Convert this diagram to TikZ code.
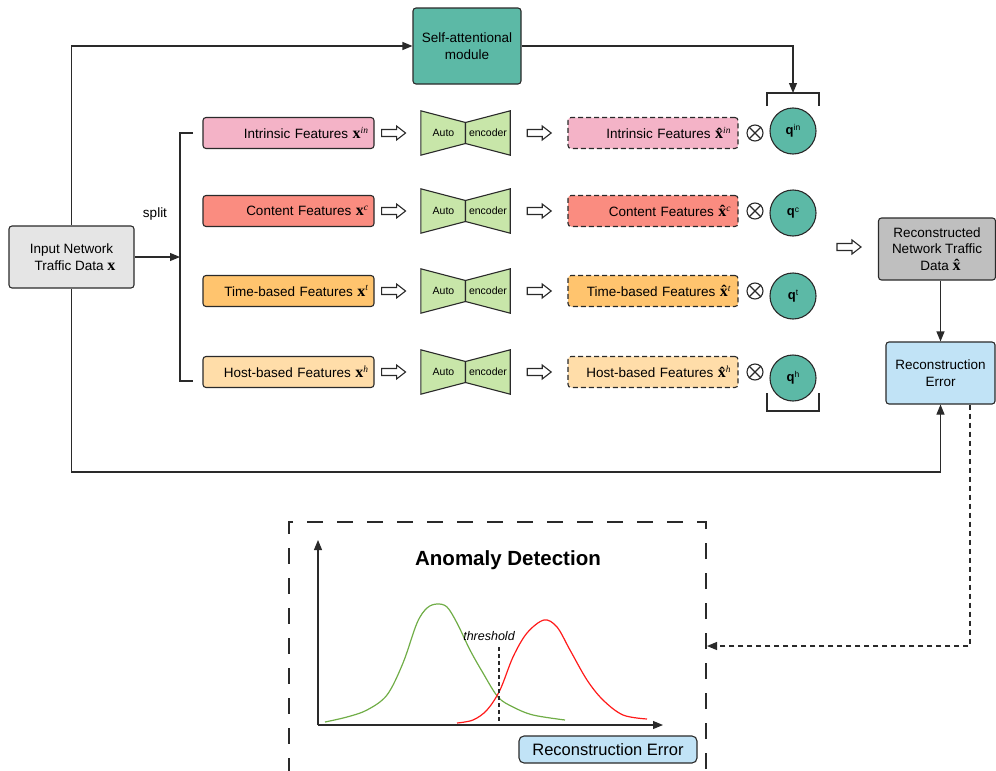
\documentclass[tikz,border=0pt]{standalone}
\usepackage[no-math]{fontspec}
\setmainfont{Liberation Sans}
\newfontfamily\serifx{Liberation Serif}
\usetikzlibrary{arrows.meta,calc}
\definecolor{lnc}{HTML}{2A2A2A}
\definecolor{cteal}{HTML}{5CB9A6}
\definecolor{cpink}{HTML}{F4B3C7}
\definecolor{csalmon}{HTML}{FA8C80}
\definecolor{corange}{HTML}{FFC46E}
\definecolor{clorange}{HTML}{FFDDA9}
\definecolor{cae}{HTML}{C8E6A9}
\definecolor{cingray}{HTML}{E5E5E5}
\definecolor{crecgray}{HTML}{BFBFBF}
\definecolor{cblue}{HTML}{C1E3F6}
\definecolor{cgreen}{HTML}{70AD47}
\definecolor{cred}{HTML}{FF1A1A}
\newcommand{\fsmain}{\fontsize{13.5}{16.5}\selectfont}
\newcommand{\fssmall}{\fontsize{10.5}{12}\selectfont}
\newcommand{\vx}[1]{{\serifx\bfseries\fontsize{16}{16}\selectfont x}\textsuperscript{\serifx\itshape #1}}
\newcommand{\vxh}[1]{{\serifx\bfseries\fontsize{16}{16}\selectfont \^{x}}\textsuperscript{\serifx\itshape #1}}
\tikzset{
  base/.style={draw=lnc, line width=1.1pt, rounded corners=3pt, font=\fsmain, align=center, inner sep=2pt},
  fbox/.style={base, minimum height=31pt, text width=160pt, align=right, inner xsep=5.5pt, inner ysep=0pt},
  rbox/.style={fbox, dash pattern=on 5pt off 3pt},
  aebox/.style={draw=none, minimum width=89pt, minimum height=44pt, inner sep=0pt},
  aeshape/.style={draw=lnc, line width=1.1pt, fill=cae, line join=miter},
  otimes/.style={circle, draw=lnc, line width=1.1pt, minimum size=16pt, inner sep=0pt},
  qnode/.style={circle, draw=lnc, line width=1.1pt, fill=cteal, minimum size=46pt, inner sep=0pt},
  conn/.style={draw=lnc, line width=1.1pt},
  harrow/.pic={\draw[draw=lnc, line width=1.1pt, fill=white, line join=miter]
      (0,-3.5) -- (15,-3.5) -- (15,-7) -- (24,0) -- (15,7) -- (15,3.5) -- (0,3.5) -- cycle;}
}
\begin{document}
\begin{tikzpicture}[x=1pt, y=-1pt, >={Triangle[length=10pt,width=8pt]}]
\useasboundingbox (0,0) rectangle (996,771);

% top-level boxes
\node[base, fill=cteal, minimum width=108pt, minimum height=76pt] (sa) at (467,46) {Self-attentional\\module};
\node[base, fill=cingray, minimum width=125pt, minimum height=62pt] (in) at (71.5,257) {Input Network\\\ \ Traffic Data \vx{}};
\node[base, fill=crecgray, minimum width=117pt, minimum height=62pt, inner ysep=0pt] (rec) at (937,249) {Reconstructed\\Network Traffic\\\ \ Data \vxh{}};
\node[base, fill=cblue, minimum width=109pt, minimum height=62pt] (re) at (940.5,373) {Reconstruction\\Error};

% split bracket
\coordinate (sp) at (180,257);
\coordinate (spt) at (193,133);
\coordinate (spb) at (193,381);
\draw[conn] (spt) -- (180,133) -- (180,381) -- (spb);
\node[font=\fsmain] (splitlbl) at (155,214) {split};
\draw[conn,->] (in.east) -- (sp);

% rows
\foreach \i/\y/\qy/\col/\nm/\supx in {1/133/131/cpink/Intrinsic/in,2/211/213/csalmon/Content/c,3/291/296/corange/Time-based/t,4/372/378/clorange/Host-based/h}{
  \node[fbox, fill=\col] (f\i) at (288.5,\y) {\nm\ Features \vx{\supx}};
  \pic at ($(f\i.east)+(7,0)$) {harrow};
  \node[aebox] (a\i) at (465.5,\y) {};
  \draw[aeshape] (a\i.north west) -- ($(a\i.center)+(0,-10.5)$) -- ($(a\i.center)+(0,10.5)$) -- (a\i.south west) -- cycle;
  \draw[aeshape] (a\i.north east) -- ($(a\i.center)+(0,-10.5)$) -- ($(a\i.center)+(0,10.5)$) -- (a\i.south east) -- cycle;
  \node[font=\fssmall, inner sep=0pt] (au\i) at ($(a\i.center)+(-22,0)$) {Auto};
  \node[font=\fssmall, inner sep=0pt] (en\i) at ($(a\i.center)+(22.5,0)$) {encoder};
  \pic at ($(a\i.east)+(17,0)$) {harrow};
  \node[rbox, fill=\col, inner xsep=7pt, text width=156pt] (r\i) at (653,\y) {\nm\ Features \vxh{\supx}};
  \node[otimes] (o\i) at (755,\y) {};
  \draw[draw=lnc, line width=1.1pt] (o\i.45) -- (o\i.225) (o\i.135) -- (o\i.315);
  \node[qnode] (q\i) at (793,\qy) {{\fontsize{13}{14}\selectfont\textbf{q}}\raisebox{3.5pt}{\fontsize{8.5}{9}\selectfont \supx}};
}

% brackets around q column
\coordinate (bt) at (793,93);
\draw[conn] (767,106) -- (767,93) -- (819,93) -- (819,106);
\draw[conn] (767,393) -- (767,411) -- (819,411) -- (819,393);

% connectors
\draw[conn,->] (in.north) |- (sa.west);
\draw[conn,->] (sa.east) -| (bt);
\pic at (837,247) {harrow};
\draw[conn,->] (rec.south -| re.north) -- (re.north);
\draw[conn,->] (in.south) -- (71.5,472) -| (re.south);
\coordinate (ds) at ($(re.south)+(29.5,0)$);
\coordinate (adin) at (707,646);
\draw[conn, dash pattern=on 5pt off 4pt, ->] (ds) |- (adin);

% anomaly detection panel
\node[draw=lnc, line width=1.1pt, dash pattern=on 16pt off 14pt, minimum width=417pt, minimum height=280pt, inner sep=0pt] (ad) at (497.5,662) {};
\node[font=\fontsize{20.5}{24}\selectfont\bfseries] (adt) at (508,560) {Anomaly Detection};
\coordinate (org) at (318,725);
\draw[conn,->] (org) -- (318,540);
\draw[conn,->] (org) -- (663,725);
\draw[cgreen, line width=1.2pt] plot[smooth, tension=0.55] coordinates {(325,722) (347,717) (367,710) (387,695) (403,663) (417,623) (427,608) (437,604) (447,607) (457,623) (470,650) (483,673) (498,697) (513,707) (533,715) (565,720)};
\draw[cred, line width=1.2pt] plot[smooth, tension=0.55] coordinates {(457,723) (473,720) (487,710) (500,690) (513,657) (527,633) (544,620) (557,627) (570,650) (587,680) (603,700) (623,715) (647,719)};
\draw[conn, dash pattern=on 4pt off 3pt] (499,647) -- (499,725);
\node[font=\fontsize{12.5}{15}\selectfont\itshape] (thr) at (489,636) {threshold};
\node[base, fill=cblue, rounded corners=5pt, minimum width=178pt, minimum height=27pt, font=\fontsize{16.5}{20}\selectfont] (rex) at (608,749.5) {Reconstruction Error};
\end{tikzpicture}
\end{document}
